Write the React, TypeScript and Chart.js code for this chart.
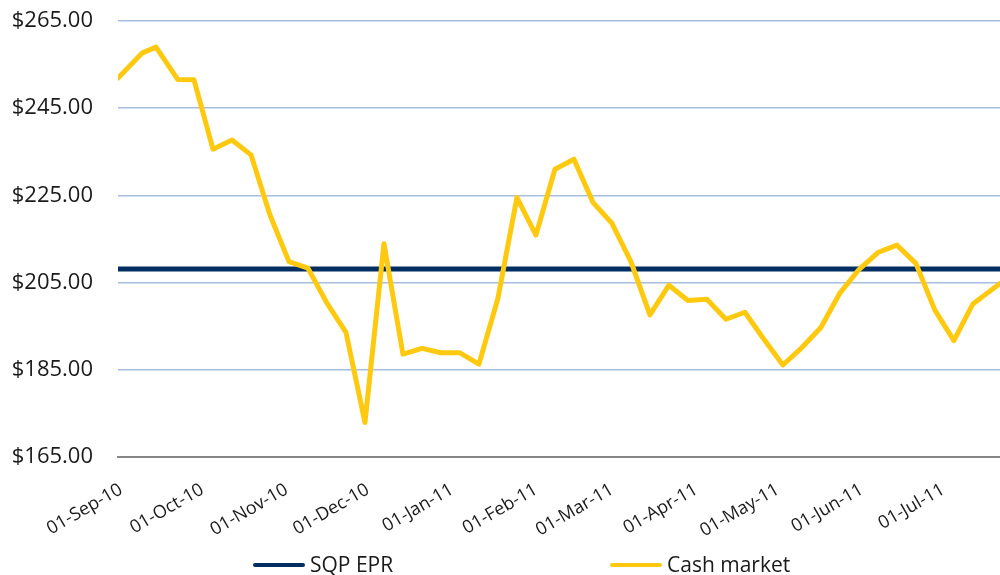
import React, { useEffect, useRef } from "react";
import { Chart, registerables } from "chart.js";

Chart.register(...registerables);

// ---- data ----
const startDate = "2010-09-01";
const endDate = "2011-07-23";

const cashDates = [
  "2010-09-01", "2010-09-10", "2010-09-15", "2010-09-23", "2010-09-29",
  "2010-10-06", "2010-10-13", "2010-10-20", "2010-10-27", "2010-11-03",
  "2010-11-10", "2010-11-17", "2010-11-24", "2010-12-01", "2010-12-08",
  "2010-12-15", "2010-12-22", "2010-12-29", "2011-01-05", "2011-01-12",
  "2011-01-19", "2011-01-26", "2011-02-02", "2011-02-09", "2011-02-16",
  "2011-02-23", "2011-03-02", "2011-03-09", "2011-03-16", "2011-03-23",
  "2011-03-30", "2011-04-06", "2011-04-13", "2011-04-20", "2011-04-27",
  "2011-05-04", "2011-05-11", "2011-05-18", "2011-05-25", "2011-06-01",
  "2011-06-08", "2011-06-15", "2011-06-22", "2011-06-29", "2011-07-06",
  "2011-07-13", "2011-07-23",
];
const cashValues = [
  251.9, 257.7, 259.0, 251.6, 251.5,
  235.6, 237.7, 234.3, 220.5, 209.8,
  208.3, 200.3, 193.6, 172.9, 213.9,
  188.6, 189.9, 188.9, 188.9, 186.3,
  201.4, 224.5, 215.9, 231.0, 233.3,
  223.4, 218.6, 209.8, 197.6, 204.4,
  200.9, 201.2, 196.6, 198.2, 192.0,
  186.1, 190.1, 194.7, 202.6, 208.0,
  211.9, 213.6, 209.4, 198.7, 191.7,
  200.1, 204.8,
];

const eprDates = ["2010-09-01", "2011-07-23"];
const eprValues = [208.1, 208.1];

const tickDates = [
  "2010-09-01", "2010-10-01", "2010-11-01", "2010-12-01", "2011-01-01",
  "2011-02-01", "2011-03-01", "2011-04-01", "2011-05-01", "2011-06-01",
  "2011-07-01",
];
const tickLabels = [
  "01-Sep-10", "01-Oct-10", "01-Nov-10", "01-Dec-10", "01-Jan-11",
  "01-Feb-11", "01-Mar-11", "01-Apr-11", "01-May-11", "01-Jun-11",
  "01-Jul-11",
];

const yMin = 165;
const yMax = 265;
const yStep = 20;

const seriesNames = ["SQP EPR", "Cash market"];
const seriesColors = ["#002E62", "#FFC90F"];

// ---- helpers ----
const dayOf = (s: string) => {
  const [y, m, d] = s.split("-").map(Number);
  const [y0, m0, d0] = startDate.split("-").map(Number);
  return (Date.UTC(y, m - 1, d) - Date.UTC(y0, m0 - 1, d0)) / 86400000;
};

const FONT = "'Open Sans', 'Noto Sans', sans-serif";

const legendPlugin = {
  id: "customLegend",
  afterDraw(chart: any) {
    const ctx = chart.ctx;
    const starts = [253, 610];
    const y = 565;
    ctx.save();
    seriesNames.forEach((name, i) => {
      const x0 = starts[i];
      ctx.beginPath();
      ctx.strokeStyle = seriesColors[i];
      ctx.lineWidth = 4;
      ctx.lineCap = "round";
      ctx.moveTo(x0 + 2, y);
      ctx.lineTo(x0 + 50, y);
      ctx.stroke();
      ctx.fillStyle = "#1a1a1a";
      ctx.font = `21px ${FONT}`;
      ctx.textAlign = "left";
      ctx.textBaseline = "middle";
      ctx.fillText(name, x0 + 57, y + 1);
    });
    ctx.restore();
  },
};

export default function App() {
  const canvasRef = useRef<HTMLCanvasElement | null>(null);

  useEffect(() => {
    if (!canvasRef.current) return;
    const tickDays = tickDates.map(dayOf);
    const chart = new Chart(canvasRef.current, {
      type: "line",
      data: {
        datasets: [
          {
            label: seriesNames[0],
            data: eprDates.map((d, i) => ({ x: dayOf(d), y: eprValues[i] })),
            borderColor: seriesColors[0],
            backgroundColor: seriesColors[0],
            borderWidth: 5,
            pointRadius: 0,
            borderCapStyle: "round",
            borderJoinStyle: "round",
            tension: 0,
            order: 1,
          },
          {
            label: seriesNames[1],
            data: cashDates.map((d, i) => ({ x: dayOf(d), y: cashValues[i] })),
            borderColor: seriesColors[1],
            backgroundColor: seriesColors[1],
            borderWidth: 5,
            pointRadius: 0,
            borderCapStyle: "round",
            borderJoinStyle: "round",
            tension: 0,
            order: 0,
          },
        ],
      },
      options: {
        responsive: false,
        animation: false,
        events: [],
        layout: { padding: { top: 21, left: 0, right: 0, bottom: 0 } },
        plugins: {
          legend: { display: false },
          tooltip: { enabled: false },
          title: { display: false },
        },
        scales: {
          x: {
            type: "linear",
            min: 0,
            max: dayOf(endDate),
            grid: { display: false, drawTicks: false },
            border: { display: true, color: "#868686", width: 2 },
            afterBuildTicks: (axis: any) => {
              axis.ticks = tickDays.map((v) => ({ value: v }));
            },
            afterFit: (axis: any) => {
              axis.height = 118;
            },
            ticks: {
              autoSkip: false,
              minRotation: 30,
              maxRotation: 30,
              padding: 22,
              labelOffset: 3,
              color: "#1a1a1a",
              font: { family: FONT, size: 18 },
              callback: (_v: any, i: number) => tickLabels[i],
            },
          },
          y: {
            min: yMin,
            max: yMax,
            grid: {
              color: "#A7BFDE",
              lineWidth: 1.5,
              drawTicks: true,
              tickLength: 25,
              tickColor: "rgba(0,0,0,0)",
            },
            border: { display: false },
            afterFit: (axis: any) => {
              axis.width = 118;
            },
            ticks: {
              stepSize: yStep,
              padding: 0,
              color: "#1a1a1a",
              font: { family: FONT, size: 22 },
              callback: (v: any) => "$" + Number(v).toFixed(2),
            },
          },
        },
      },
      plugins: [legendPlugin],
    } as any);
    return () => chart.destroy();
  }, []);

  return (
    <div style={{ position: "absolute", left: 0, top: 0, width: 1000, height: 575, background: "#fff" }}>
      <canvas ref={canvasRef} width={1000} height={575} style={{ display: "block" }} />
    </div>
  );
}
